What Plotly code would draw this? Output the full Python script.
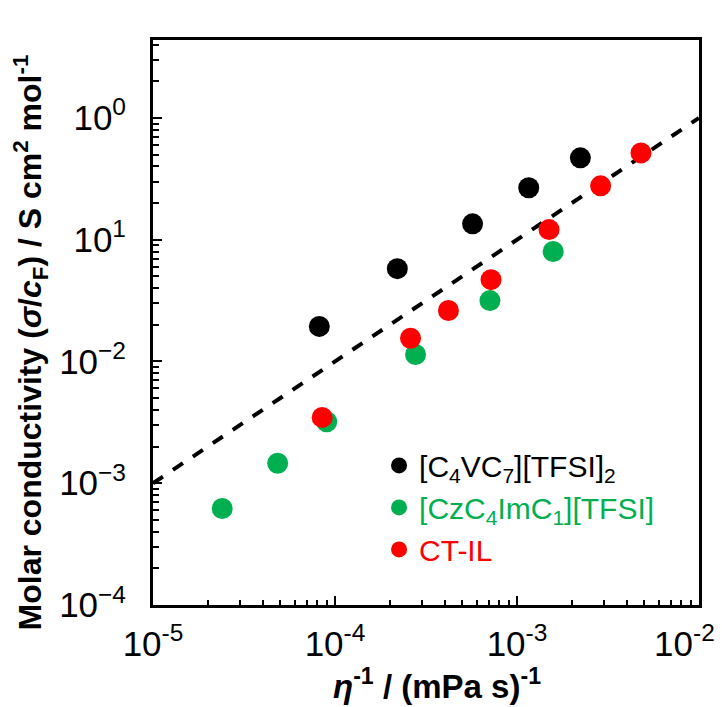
import plotly.graph_objects as go

# ---- data ----
black_x = [8.2e-5, 2.2e-4, 5.7e-4, 1.16e-3, 2.23e-3]
black_y = [0.0194, 0.0578, 0.135, 0.267, 0.47]

green_x = [2.4e-5, 4.84e-5, 9.0e-5, 2.77e-4, 7.1e-4, 1.58e-3]
green_y = [6.2e-4, 1.46e-3, 3.2e-3, 0.0114, 0.0316, 0.080]

red_x = [8.5e-5, 2.6e-4, 4.2e-4, 7.2e-4, 1.5e-3, 2.88e-3, 4.8e-3]
red_y = [3.47e-3, 0.0155, 0.0262, 0.047, 0.121, 0.277, 0.516]

fit_x = [1e-5, 1e-2]
fit_y = [1e-3, 1.0]

x_tickvals = [1e-5, 1e-4, 1e-3, 1e-2]
x_ticktext = ["10<sup>-5</sup>", "10<sup>-4</sup>", "10<sup>-3</sup>",
              "10<sup>-2</sup>&nbsp;&nbsp;&nbsp;"]
y_tickvals = [1e-4, 1e-3, 1e-2, 1e-1, 1e0]
y_ticktext = ["10<sup>−4</sup>", "10<sup>−3</sup>", "10<sup>−2</sup>", "10<sup>1</sup>", "10<sup>0</sup>"]

names = ["[C<sub>4</sub>VC<sub>7</sub>][TFSI]<sub>2</sub>",
         "[CzC<sub>4</sub>ImC<sub>1</sub>][TFSI]",
         "CT-IL"]
colors = ["#000000", "#00b050", "#ff0000"]

x_title = "<b><i>η</i><sup>-1</sup> / (mPa s)<sup>-1</sup></b>"
y_title = "<b>Molar conductivity (<i>σ</i>/<i>c</i><sub>F</sub>) / S cm<sup>2</sup> mol<sup>-1</sup></b>"

x_minor = [m * 10 ** e for e in range(-5, -2) for m in range(2, 10)]
y_minor = [m * 10 ** e for e in range(-4, 1) for m in range(2, 10)]

FONT = "Liberation Sans, Arial, sans-serif"

fig = go.Figure()
fig.add_trace(go.Scatter(x=fit_x, y=fit_y, mode="lines",
                         line=dict(color="black", width=4, dash="dash"),
                         showlegend=False, hoverinfo="skip"))
for xs, ys, nm, c in [(black_x, black_y, names[0], colors[0]),
                      (green_x, green_y, names[1], colors[1]),
                      (red_x, red_y, names[2], colors[2])]:
    fig.add_trace(go.Scatter(x=xs, y=ys, mode="markers",
                             marker=dict(color=c, size=21, line=dict(width=0)),
                             name=f'<span style="color:{c}">{nm}</span>'))

fig.update_layout(
    width=722, height=707,
    margin=dict(l=153, r=23, t=40, b=102, autoexpand=False),
    paper_bgcolor="white", plot_bgcolor="white",
    font=dict(family=FONT, color="black"),
    legend=dict(x=0.414, y=0.293, xanchor="left", yanchor="top",
                font=dict(size=30, family=FONT),
                bgcolor="rgba(0,0,0,0)", itemsizing="trace",
                tracegroupgap=0),
    showlegend=True,
    annotations=[
        dict(text=x_title, xref="paper", yref="paper", x=0.52, y=-0.14,
             xanchor="center", yanchor="middle", showarrow=False,
             font=dict(size=33, family=FONT)),
        dict(text=y_title, xref="paper", yref="paper", x=-0.225, y=0.465,
             xanchor="center", yanchor="middle", showarrow=False,
             textangle=-90, font=dict(size=32, family=FONT)),
    ],
)
fig.update_xaxes(
    type="log", range=[-5, -2], automargin=False,
    tickmode="array", tickvals=x_tickvals, ticktext=x_ticktext,
    ticks="inside", ticklen=9, tickwidth=2, tickcolor="black",
    minor=dict(tickmode="array", tickvals=x_minor, ticks="inside",
               ticklen=5, tickwidth=2, tickcolor="black", showgrid=False),
    showline=True, linewidth=3, linecolor="black", mirror=True,
    showgrid=False, zeroline=False,
    tickfont=dict(size=35, family=FONT),
    ticklabelstandoff=6, ticklabeloverflow="allow",
)
fig.update_yaxes(
    type="log", range=[-4, 0.64], automargin=False,
    tickmode="array", tickvals=y_tickvals, ticktext=y_ticktext,
    ticks="inside", ticklen=9, tickwidth=2, tickcolor="black",
    minor=dict(tickmode="array", tickvals=y_minor, ticks="inside",
               ticklen=6, tickwidth=2, tickcolor="black", showgrid=False),
    showline=True, linewidth=3, linecolor="black", mirror=True,
    showgrid=False, zeroline=False,
    tickfont=dict(size=35, family=FONT),
    ticklabelstandoff=17, ticklabeloverflow="allow",
)

fig.write_html("out.html")
